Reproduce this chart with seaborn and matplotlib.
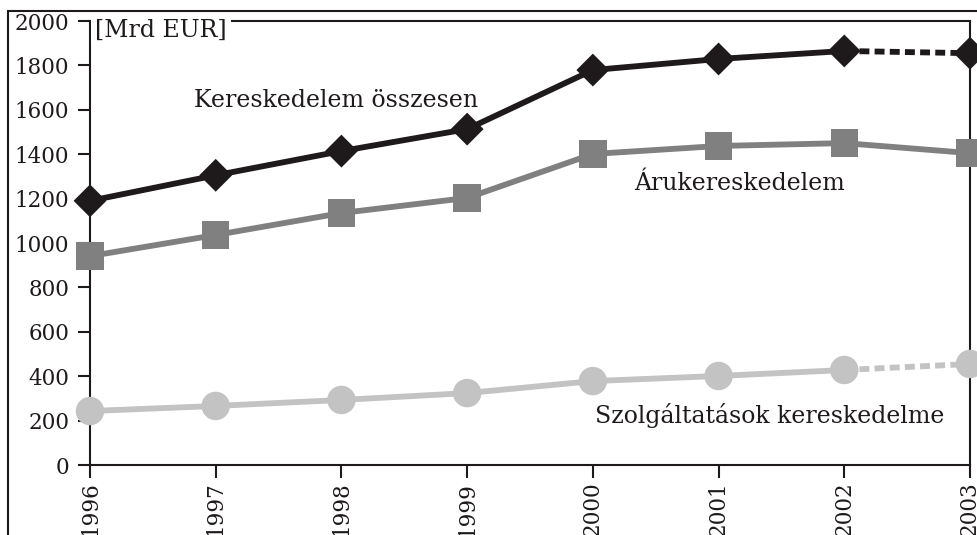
import matplotlib
matplotlib.use("Agg")
import matplotlib.pyplot as plt
from matplotlib.patches import Rectangle
import seaborn as sns
import pandas as pd

years = [1996, 1997, 1998, 1999, 2000, 2001, 2002, 2003]
total = [1190, 1305, 1414, 1513, 1779, 1829, 1865, 1855]
goods = [941, 1036, 1135, 1203, 1401, 1437, 1450, 1405]
services = [243, 266, 293, 324, 378, 401, 428, 455]
yticks = [0, 200, 400, 600, 800, 1000, 1200, 1400, 1600, 1800, 2000]
unit_label = "[Mrd EUR]"
lab_total = "Kereskedelem összesen"
lab_goods = "Árukereskedelem"
lab_services = "Szolgáltatások kereskedelme"

sns.set_theme(style="white")
plt.rcParams["font.family"] = ["DejaVu Serif"]
FS = 15.5
FS2 = 17

df = pd.DataFrame({"year": years, "total": total, "goods": goods, "services": services})

fig = plt.figure(figsize=(9.78, 5.35), dpi=100)
ax = fig.add_axes([90/978, 1-465/535, (970-90)/978, (465-21)/535])

c_total = "#1e1a1b"
c_goods = "#808080"
c_serv = "#c3c3c3"
lw = 4.2
dash = (0, (1.7, 0.9))

solid = df[df.year <= 2002]
dashed = df[df.year >= 2002]

# total
sns.lineplot(data=solid, x="year", y="total", color=c_total, lw=lw, ax=ax, zorder=3)
sns.lineplot(data=dashed, x="year", y="total", color=c_total, lw=lw, ax=ax, zorder=3,
             linestyle=dash)
sns.scatterplot(data=df, x="year", y="total", color=c_total, marker="D", s=280,
                edgecolor="none", ax=ax, zorder=4, clip_on=False)
# goods
sns.lineplot(data=df, x="year", y="goods", color=c_goods, lw=lw, ax=ax, zorder=3)
sns.scatterplot(data=df, x="year", y="goods", color=c_goods, marker="s", s=390,
                edgecolor="none", ax=ax, zorder=4, clip_on=False)
# services
sns.lineplot(data=solid, x="year", y="services", color=c_serv, lw=lw, ax=ax, zorder=3)
sns.lineplot(data=dashed, x="year", y="services", color=c_serv, lw=lw, ax=ax, zorder=3,
             linestyle=dash)
sns.scatterplot(data=df, x="year", y="services", color=c_serv, marker="o", s=420,
                edgecolor="none", ax=ax, zorder=4, clip_on=False)

for coll in ax.collections:
    coll.set_clip_on(False)

ax.set_xlim(1996, 2003)
ax.set_ylim(0, 2000)
ax.set_xticks(years)
ax.set_xticklabels([str(y) for y in years], rotation=90, fontsize=FS, va="top")
ax.set_yticks(yticks)
ax.set_yticklabels([str(v) for v in yticks], fontsize=FS)
ax.set_xlabel("")
ax.set_ylabel("")
for s in ax.spines.values():
    s.set_color("#1e1a1b")
    s.set_linewidth(1.5)
ax.tick_params(axis="both", direction="out", length=9, width=1.5, color="#1e1a1b",
               pad=6, bottom=True, left=True, labelcolor="#1e1a1b")
ax.tick_params(axis="x", pad=3)

ax.text(1996.04, 1958, unit_label, fontsize=FS2, ha="left", va="center", color="#1e1a1b",
        bbox=dict(facecolor="white", edgecolor="none", pad=3), zorder=5, clip_on=False)
ax.text(1997.96, 1644, lab_total, fontsize=FS2, ha="center", va="center", color="#1e1a1b")
ax.text(2001.17, 1266, lab_goods, fontsize=FS2, ha="center", va="center", color="#1e1a1b")
ax.text(2001.41, 225, lab_services, fontsize=FS2, ha="center", va="center", color="#1e1a1b")

fig.patches.append(Rectangle((8/978, -0.2), 1.2, 1.2 - 11/535, transform=fig.transFigure,
                             fill=False, edgecolor="#1e1a1b", lw=1.5, zorder=0))

fig.savefig("out.png", dpi=100)
